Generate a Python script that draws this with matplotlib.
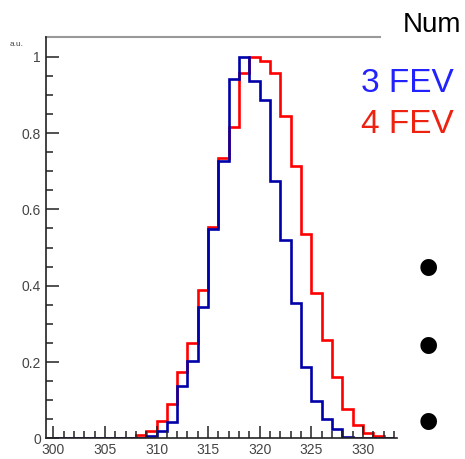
import numpy as np
import matplotlib
matplotlib.use("Agg")
import matplotlib.pyplot as plt

# bin lower edges (unit bins) and normalised counts
edges = np.arange(299, 334)
fev3 = [0, 0, 0, 0, 0, 0, 0, 0, 0, 0,
        0.006, 0.018, 0.044, 0.138, 0.203, 0.343, 0.548, 0.727, 0.941, 1.0,
        0.936, 0.886, 0.674, 0.52, 0.355, 0.186, 0.099, 0.051, 0.025, 0.004,
        0, 0, 0, 0]
fev4 = [0, 0, 0, 0, 0, 0, 0, 0, 0, 0.009,
        0.02, 0.045, 0.091, 0.175, 0.249, 0.389, 0.553, 0.736, 0.817, 0.958,
        1.0, 0.988, 0.958, 0.845, 0.715, 0.536, 0.38, 0.258, 0.161, 0.076,
        0.034, 0.013, 0.006, 0]
xticks = [300, 305, 310, 315, 320, 325, 330]
yticks = [0, 0.2, 0.4, 0.6, 0.8, 1]
ylabels = ["0", "0.2", "0.4", "0.6", "0.8", "1"]

plt.rcParams['font.family'] = ['Liberation Sans', 'DejaVu Sans']

W, H = 465, 459
fig = plt.figure(figsize=(W / 100, H / 100), dpi=100)
x0, x1, y0, y1 = 45.7, 397, 37, 438.3
ax = fig.add_axes([x0 / W, 1 - y1 / H, (x1 - x0) / W, (y1 - y0) / H])

ax.stairs(fev4, edges, color="#ff0000", lw=1.9, baseline=None)
ax.stairs(fev3, edges, color="#0000a8", lw=1.9, baseline=None)

ax.set_xlim(299.26, 333.3)
ax.set_ylim(0, 1.052)

ax.set_xticks(xticks)
ax.set_xticks(np.arange(300, 334), minor=True)
ax.set_yticks(yticks)
ax.set_yticklabels(ylabels)
ax.set_yticks(np.arange(0, 1.05, 0.05), minor=True)
ax.tick_params(which="both", direction="in", color="#222222", width=1.1,
               labelsize=10, labelcolor="#444444", pad=3.5)
ax.tick_params(which="major", length=9)
ax.tick_params(which="minor", length=5)

for s in ["top", "right"]:
    ax.spines[s].set_visible(False)
for s in ["left", "bottom"]:
    ax.spines[s].set_color("#222222")
    ax.spines[s].set_linewidth(1.2)
# top frame line, partly hidden by the slide text box
ax.plot([0, (380 - x0) / (x1 - x0)], [1, 1], transform=ax.transAxes,
        color="#999999", lw=1.5, clip_on=False)

fig.text(10 / W, 1 - 46 / H, "a.u.", fontsize=6, color="#444444")

# slide text around the plot
fig.text(403 / W, 1 - 32 / H, "Num", fontsize=20, color="black")
fig.text(361 / W, 1 - 92 / H, "3 FEV", fontsize=24, color="#2222ff")
fig.text(361 / W, 1 - 133 / H, "4 FEV", fontsize=24, color="#ee2211")
for yb in [273, 350, 427]:
    fig.text(428 / W, 1 - yb / H, "\u2022", fontsize=44, color="black",
             ha="center", va="center")

fig.savefig("out.png", dpi=100)
